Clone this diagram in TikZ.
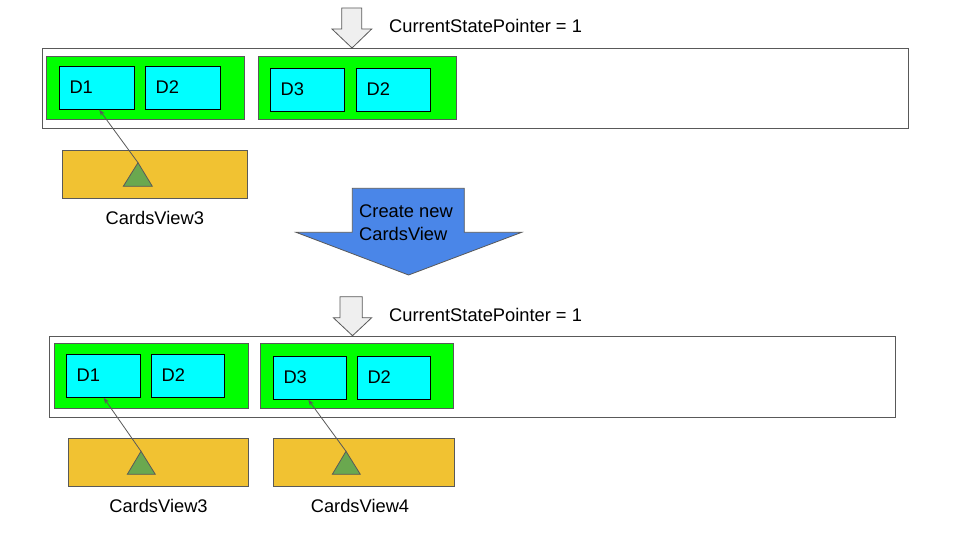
\documentclass[tikz,border=0pt]{standalone}
\usepackage{fontspec}
\setmainfont{Liberation Sans}
\usetikzlibrary{arrows.meta}
\definecolor{bgrey}{HTML}{595959}
\definecolor{ggreen}{HTML}{00FF00}
\definecolor{gcyan}{HTML}{00FFFF}
\definecolor{gorange}{HTML}{F1C232}
\definecolor{tgreen}{HTML}{6AA84F}
\definecolor{gblue}{HTML}{4A86E8}
\definecolor{plight}{HTML}{EFEFEF}
\newcommand{\rectnode}[6]{\node[#2, anchor=north west, inner sep=0pt, minimum width={(#5-#3)*1pt}, minimum height={(#6-#4)*1pt}] (#1) at (#3,#4) {};}
\tikzset{
  outerbox/.style={draw=bgrey, line width=1pt, fill=white},
  grpbox/.style={draw=bgrey, line width=1pt, fill=ggreen},
  dbox/.style={draw=black, line width=1pt, fill=gcyan},
  cvbox/.style={draw=bgrey, line width=1pt, fill=gorange},
  tri/.style={draw=bgrey, line width=0.8pt, fill=tgreen},
  ptr/.style={draw=bgrey, line width=0.8pt, fill=plight},
  bigarrow/.style={draw=bgrey, line width=0.8pt, fill=gblue},
  lbl/.style={font=\fontsize{18.3}{22}\selectfont, inner sep=0pt, text=black},
  conn/.style={draw=bgrey, line width=0.8pt, -{Stealth[length=6pt,width=4.5pt]}},
}
\begin{document}
\begin{tikzpicture}[x=1pt,y=-1pt]
\useasboundingbox (0,0) rectangle (960,540);
\fill[white] (0,0) rectangle (960,540);

% ===== top state =====
\draw[ptr] (341.7,8) -- (361.7,8) -- (361.7,29) -- (371.7,29) -- (352,48) -- (332,29) -- (341.7,29) -- cycle;
\node[lbl, anchor=base west] (csp1) at (389,33) {CurrentStatePointer = 1};

\rectnode{outer1}{outerbox}{41.7}{48.3}{908.3}{128.3}
\rectnode{g11}{grpbox}{46.3}{55.7}{244.3}{119.3}
\rectnode{g12}{grpbox}{258.3}{55.7}{455.7}{119.3}
\rectnode{d11}{dbox}{59.3}{66.3}{133.7}{109.3}
\rectnode{d12}{dbox}{145.3}{66.3}{220.3}{109.3}
\rectnode{d13}{dbox}{270.3}{68.3}{344.3}{111.3}
\rectnode{d14}{dbox}{356.3}{68.3}{430.3}{111.3}
\node[lbl, anchor=base west] (l11) at (69.3,93.3) {D1};
\node[lbl, anchor=base west] (l12) at (155.5,93.3) {D2};
\node[lbl, anchor=base west] (l13) at (280.5,95.5) {D3};
\node[lbl, anchor=base west] (l14) at (366.5,95.5) {D2};

\rectnode{cv13}{cvbox}{62.3}{150.3}{247.3}{198.3}
\draw[tri] (123.3,186.3) -- (152.3,186.3) -- (138,162.7) -- cycle;
\coordinate (t13) at (138,162.7);
\coordinate (e11) at (99.3,109.8);
\draw[conn] (t13) -- (e11);
\node[lbl, anchor=base] (c13) at (154.8,224.3) {CardsView3};

% ===== big arrow =====
\draw[bigarrow] (352.3,188.3) -- (464.3,188.3) -- (464.3,232.3) -- (521.7,232.3) -- (408.6,275) -- (296,232.3) -- (352.3,232.3) -- cycle;
\node[lbl, anchor=base west, align=left] (create) at (359,217.3) {Create new};
\node[lbl, anchor=base west, align=left] (create2) at (359,240) {CardsView};

% ===== bottom state =====
\draw[ptr] (340,296.7) -- (362.3,296.7) -- (362.3,317.7) -- (371.7,317.7) -- (352.5,335.7) -- (333.3,317.7) -- (340,317.7) -- cycle;
\node[lbl, anchor=base west] (csp2) at (389,321.5) {CurrentStatePointer = 1};

\rectnode{outer2}{outerbox}{49.3}{336.3}{895.3}{417.3}
\rectnode{g21}{grpbox}{54.3}{343.3}{247.7}{408.3}
\rectnode{g22}{grpbox}{260.3}{343.3}{453.3}{408.3}
\rectnode{d21}{dbox}{66.3}{354.3}{139.7}{397.3}
\rectnode{d22}{dbox}{151.3}{354.3}{223.7}{397.3}
\rectnode{d23}{dbox}{273.3}{356.3}{345.7}{399.3}
\rectnode{d24}{dbox}{357.3}{356.3}{429.7}{399.3}
\node[lbl, anchor=base west] (l21) at (76.5,381) {D1};
\node[lbl, anchor=base west] (l22) at (161.5,381) {D2};
\node[lbl, anchor=base west] (l23) at (283.3,383.3) {D3};
\node[lbl, anchor=base west] (l24) at (367.3,383.3) {D2};

\rectnode{cv23}{cvbox}{68.3}{438.3}{248.3}{486.3}
\rectnode{cv24}{cvbox}{273.3}{438.3}{453.7}{486.3}
\draw[tri] (127.3,474.3) -- (155.3,474.3) -- (141,451.3) -- cycle;
\draw[tri] (332.3,474.3) -- (360.3,474.3) -- (346,451.3) -- cycle;
\coordinate (t23) at (141,451.3);
\coordinate (t24) at (346,451.3);
\coordinate (e21) at (103.7,397.8);
\coordinate (e23) at (308.3,399.8);
\draw[conn] (t23) -- (e21);
\draw[conn] (t24) -- (e23);
\node[lbl, anchor=base] (c23) at (158.5,512.5) {CardsView3};
\node[lbl, anchor=base] (c24) at (360,512.5) {CardsView4};
\end{tikzpicture}
\end{document}
